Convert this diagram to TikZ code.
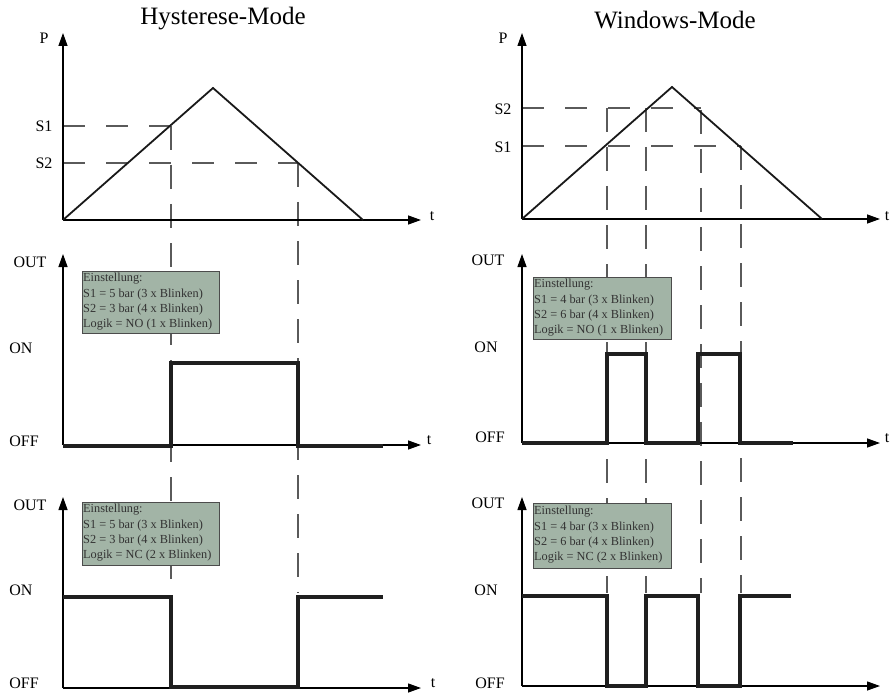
\documentclass[tikz,border=0pt]{standalone}
\usepackage{fontspec}
\setmainfont{Liberation Serif}
\usetikzlibrary{arrows.meta}
\definecolor{boxfill}{RGB}{162,180,166}
\definecolor{guidegray}{RGB}{90,90,90}
\begin{document}
\begin{tikzpicture}[x=1pt,y=-1pt,
  axis/.style={line width=1.3pt, black, -{Triangle[length=13pt,width=9pt]}},
  ramp/.style={line width=1.8pt, black!90, line join=miter},
  sig/.style={line width=4pt, black!88, line join=miter},
  vguide/.style={line width=1.1pt, guidegray, dash pattern=on 24pt off 15pt},
  hguide/.style={line width=1.1pt, guidegray, dash pattern=on 22pt off 21pt},
  infobox/.style={draw=black!70, line width=0.8pt, fill=boxfill, inner sep=0pt,
    anchor=north west},
  infotext/.style={text=black!80, font=\fontsize{12.3}{15.4}\selectfont,
    align=left, inner sep=0pt, anchor=north west},
  lbl/.style={font=\fontsize{16}{18}\selectfont, inner sep=0pt},
  ttl/.style={font=\fontsize{25}{28}\selectfont, inner sep=0pt}]
\useasboundingbox (0,0) rectangle (891,695);

% ---------- titles ----------
\node[ttl] (titleH) at (223,19) {Hysterese-Mode};
\node[ttl] (titleW) at (675,20) {Windows-Mode};

% ---------- key points, Hysterese ----------
\coordinate (hO1) at (63,220);  \coordinate (hP) at (63,33);  \coordinate (hT1) at (421,220);
\coordinate (hPeak) at (213,88); \coordinate (hEnd) at (363,220);
\coordinate (hS1) at (63,126);  \coordinate (hX1) at (171,126);
\coordinate (hS2) at (63,163);  \coordinate (hX2) at (298,163);
\coordinate (hX1b) at (171,590); \coordinate (hX2b) at (298,593);
\coordinate (hO2) at (63,445);  \coordinate (hU2) at (63,254); \coordinate (hT2) at (421,445);
\coordinate (hO3) at (63,688);  \coordinate (hU3) at (63,497); \coordinate (hT3) at (421,688);

% ---------- key points, Windows ----------
\coordinate (wO1) at (522,219); \coordinate (wP) at (522,33);  \coordinate (wT1) at (880,219);
\coordinate (wPeak) at (672,87); \coordinate (wEnd) at (822,219);
\coordinate (wS2) at (522,108); \coordinate (wS2e) at (701,108);
\coordinate (wS1) at (522,146); \coordinate (wS1e) at (741,146);
\coordinate (wA) at (607,108); \coordinate (wAb) at (607,593);
\coordinate (wB) at (646,108); \coordinate (wBb) at (646,593);
\coordinate (wC) at (701,110); \coordinate (wCb) at (701,593);
\coordinate (wD) at (741,146); \coordinate (wDb) at (741,593);
\coordinate (wO2) at (522,443); \coordinate (wU2) at (522,254); \coordinate (wT2) at (880,443);
\coordinate (wO3) at (522,686); \coordinate (wU3) at (522,497); \coordinate (wT3) at (880,686);

% ---------- threshold guides ----------
\draw[hguide] (hS1) -- (hX1);
\draw[hguide] (hS2) -- (hX2);
\draw[vguide] (hX1) -- (hX1b);
\draw[vguide] (hX2) -- (hX2b);
\draw[hguide] (wS2) -- (wS2e);
\draw[hguide] (wS1) -- (wS1e);
\draw[vguide] (wA) -- (wAb);
\draw[vguide] (wB) -- (wBb);
\draw[vguide] (wC) -- (wCb);
\draw[vguide] (wD) -- (wDb);

% ---------- axes ----------
\draw[axis] (hO1) -- (hP);  \draw[axis] (hO1) -- (hT1);
\draw[axis] (hO2) -- (hU2); \draw[axis] (hO2) -- (hT2);
\draw[axis] (hO3) -- (hU3); \draw[axis] (hO3) -- (hT3);
\draw[axis] (wO1) -- (wP);  \draw[axis] (wO1) -- (wT1);
\draw[axis] (wO2) -- (wU2); \draw[axis] (wO2) -- (wT2);
\draw[axis] (wO3) -- (wU3); \draw[axis] (wO3) -- (wT3);

% ---------- pressure ramps ----------
\draw[ramp] (hO1) -- (hPeak) -- (hEnd);
\draw[ramp] (wO1) -- (wPeak) -- (wEnd);

% ---------- axis labels ----------
\node[lbl] (hPl) at (44,38) {P};
\node[lbl] (hS1l) at (44,126) {S1};
\node[lbl] (hS2l) at (44,163) {S2};
\node[lbl] (hTl1) at (432,216) {t};
\node[lbl] (hOut2) at (30,262) {OUT};
\node[lbl] (hOn2) at (21,348) {ON};
\node[lbl] (hOff2) at (24,441) {OFF};
\node[lbl] (hTl2) at (429,440) {t};
\node[lbl] (hOut3) at (30,505) {OUT};
\node[lbl] (hOn3) at (21,590) {ON};
\node[lbl] (hOff3) at (24,683) {OFF};
\node[lbl] (hTl3) at (433,683) {t};

\node[lbl] (wPl) at (503,38) {P};
\node[lbl] (wS2l) at (503,109) {S2};
\node[lbl] (wS1l) at (503,147) {S1};
\node[lbl] (wTl1) at (887,216) {t};
\node[lbl] (wOut2) at (488,260) {OUT};
\node[lbl] (wOn2) at (486,347) {ON};
\node[lbl] (wOff2) at (490,437) {OFF};
\node[lbl] (wTl2) at (887,438) {t};
\node[lbl] (wOut3) at (488,503) {OUT};
\node[lbl] (wOn3) at (486,590) {ON};
\node[lbl] (wOff3) at (490,683) {OFF};

% ---------- setting boxes ----------
\node[infobox, minimum width=137pt, minimum height=62pt] (hBoxNO) at (82,271) {};
\node[infotext] (hTxtNO) at ([xshift=1pt,yshift=-2pt]hBoxNO.north west)
  {Einstellung:\\S1 = 5 bar (3 x Blinken)\\S2 = 3 bar (4 x Blinken)\\Logik = NO (1 x Blinken)};
\node[infobox, minimum width=137pt, minimum height=63pt] (hBoxNC) at (82,502) {};
\node[infotext] (hTxtNC) at ([xshift=1pt,yshift=-2pt]hBoxNC.north west)
  {Einstellung:\\S1 = 5 bar (3 x Blinken)\\S2 = 3 bar (4 x Blinken)\\Logik = NC (2 x Blinken)};
\node[infobox, minimum width=138pt, minimum height=62pt] (wBoxNO) at (533,277) {};
\node[infotext] (wTxtNO) at ([xshift=1pt,yshift=-2pt]wBoxNO.north west)
  {Einstellung:\\S1 = 4 bar (3 x Blinken)\\S2 = 6 bar (4 x Blinken)\\Logik = NO (1 x Blinken)};
\node[infobox, minimum width=138pt, minimum height=65pt] (wBoxNC) at (533,503) {};
\node[infotext] (wTxtNC) at ([xshift=1pt,yshift=-3pt]wBoxNC.north west)
  {Einstellung:\\S1 = 4 bar (3 x Blinken)\\S2 = 6 bar (4 x Blinken)\\Logik = NC (2 x Blinken)};

% ---------- switching outputs ----------
\draw[sig] (63,446) -- (171,446) -- (171,363) -- (298,363) -- (298,446) -- (383,446);
\draw[sig] (63,597) -- (171,597) -- (171,687) -- (298,687) -- (298,597) -- (383,597);
\draw[sig] (522,443) -- (607,443) -- (607,354) -- (646,354) -- (646,443) -- (698,443)
  -- (698,354) -- (740,354) -- (740,443) -- (793,443);
\draw[sig] (522,596) -- (607,596) -- (607,686) -- (646,686) -- (646,596) -- (698,596)
  -- (698,686) -- (740,686) -- (740,596) -- (791,596);
\end{tikzpicture}
\end{document}
